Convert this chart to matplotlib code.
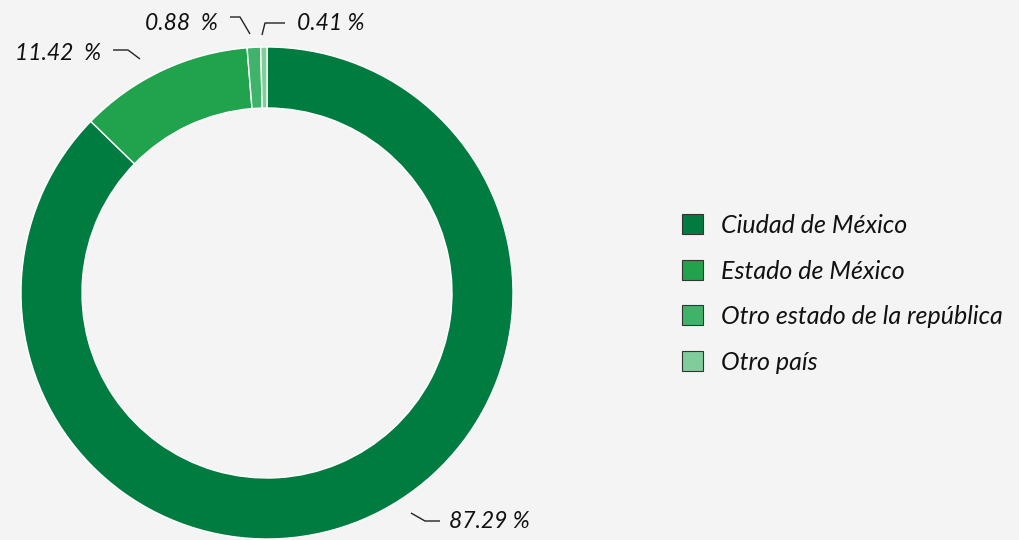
import matplotlib
matplotlib.use("Agg")
import matplotlib.pyplot as plt

categories = ["Ciudad de México", "Estado de México",
              "Otro estado de la república", "Otro país"]
shares = [87.29, 11.42, 0.88, 0.41]
labels = ["87.29 %", "11.42  %", "0.88  %", "0.41 %"]
colors = ["#007c41", "#21a34d", "#40b36b", "#80cc9a"]

W, H = 1020, 540
BG = "#f4f4f4"
FONT = ["Lato", "DejaVu Sans"]

fig = plt.figure(figsize=(W / 100, H / 100), dpi=100, facecolor=BG)
ax = fig.add_axes([0, 0, 1, 1])
ax.set_facecolor(BG)
ax.axis("off")

cx, cy, r_out, ring = 267, H - 293, 246, 61
wedges, _ = ax.pie(shares, colors=colors, startangle=90, counterclock=False,
                   center=(cx, cy), radius=r_out,
                   wedgeprops=dict(width=ring, edgecolor="white", linewidth=1.0))
ax.set_xlim(0, W)
ax.set_ylim(0, H)
ax.set_aspect("equal")


def py(y):
    return H - y


# value labels with leader lines (pixel layout, y measured from top)
leaders = [
    ([(411, 513), (425, 521), (440, 521)], (449, 521), "left"),
    ([(140, 59), (128, 50), (113, 50)], (101, 53), "right"),
    ([(250, 34), (240, 17), (230, 17)], (218, 23), "right"),
    ([(262, 35), (265, 23), (285, 23)], (297, 23), "left"),
]
for lab, (pts, (tx, ty), ha) in zip(labels, leaders):
    xs = [p[0] for p in pts]
    ys = [py(p[1]) for p in pts]
    ax.plot(xs, ys, color="#222222", lw=1.0, solid_capstyle="butt")
    ax.text(tx, py(ty), lab, ha=ha, va="center", fontsize=16.5,
            style="italic", family=FONT, color="#111111")

leg = ax.legend(wedges, categories, loc="upper left",
                bbox_to_anchor=(682 / W, 1 - 214 / H), frameon=False,
                prop=dict(family=FONT, style="italic", size=18),
                handlelength=0.84, handleheight=0.84, handletextpad=0.74,
                labelspacing=0.9, borderaxespad=0, borderpad=0)
for h in leg.legend_handles:
    h.set_edgecolor("#333333")
    h.set_linewidth(0.8)
for t in leg.get_texts():
    t.set_color("#111111")

fig.savefig("out.png", dpi=100, facecolor=BG)
